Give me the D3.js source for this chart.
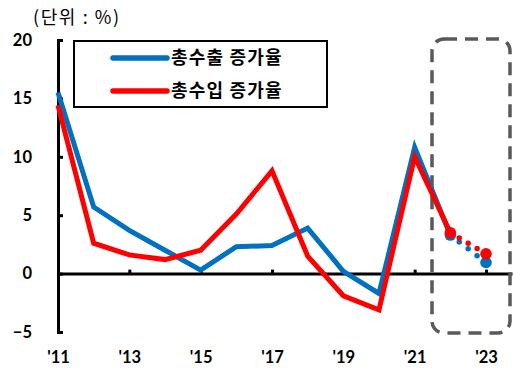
<!DOCTYPE html>
<html>
<head>
<meta charset="utf-8">
<script src="https://cdn.jsdelivr.net/npm/d3@7/dist/d3.min.js"></script>
<style>
  html, body { margin: 0; padding: 0; background: #fff; }
  svg { display: block; }
</style>
</head>
<body>
<svg id="chart" width="514" height="369"></svg>
<script>
// Annual growth rates (%), 2011–2023; 2022–2023 are outlook values
const years = [2011, 2012, 2013, 2014, 2015, 2016, 2017, 2018, 2019, 2020, 2021, 2022, 2023];
const exportGrowth = [15.5, 5.7, 3.7, 2.0, 0.3, 2.3, 2.4, 3.9, 0.2, -1.7, 10.8, 3.3, 0.95];
const importGrowth = [14.4, 2.6, 1.6, 1.2, 2.0, 5.1, 8.8, 1.5, -1.9, -3.1, 10.0, 3.5, 1.7];
const seriesNames = ["총수출 증가율", "총수입 증가율"];
const seriesColors = ["#0070C0", "#FF0000"];
const yTicks = [-5, 0, 5, 10, 15, 20];
const xTickYears = [2011, 2013, 2015, 2017, 2019, 2021, 2023];
const actualUntil = 2022;   // solid line up to here, dotted afterwards
const unitLabel = "(단위 : %)";

const svg = d3.select("#chart");
const numFont = "Lato, 'Open Sans', sans-serif";
const krFont = "'Noto Sans CJK KR', 'Noto Sans', sans-serif";

const x = d3.scaleLinear().domain([2011, 2023]).range([58, 486]);
const y = d3.scaleLinear().domain([-5, 20]).range([332, 40]);

// Unit caption
svg.append("text")
  .attr("x", 33).attr("y", 24)
  .attr("font-family", krFont).attr("font-size", 18)
  .attr("letter-spacing", 1.6)
  .attr("fill", "#000")
  .text(unitLabel);

// Y axis: bracket-style with inward ticks
const yAxis = svg.append("g")
  .attr("transform", `translate(${x(2011)},0)`)
  .call(d3.axisLeft(y).tickValues(yTicks).tickSizeInner(-5).tickSizeOuter(-5).tickPadding(26)
        .tickFormat(d3.format("d")));
yAxis.select(".domain").attr("stroke", "#000").attr("stroke-width", 3);
yAxis.selectAll(".tick line").attr("stroke", "#000").attr("stroke-width", 3);
yAxis.selectAll(".tick text")
  .attr("font-family", numFont).attr("font-weight", "bold").attr("font-size", 16.5)
  .attr("fill", "#000");

// X axis along the zero line, ticks pointing up, labels under the plot
const xAxisScale = x.copy().domain([2011, x.invert(512)]).range([58, 512]);
const xAxis = svg.append("g")
  .attr("transform", `translate(0,${y(0)})`)
  .call(d3.axisBottom(xAxisScale).tickValues(xTickYears).tickSizeInner(-4).tickSizeOuter(0)
        .tickFormat(d => "'" + String(d).slice(2)));
xAxis.select(".domain").attr("stroke", "#000").attr("stroke-width", 3);
xAxis.selectAll(".tick line").attr("stroke", "#000").attr("stroke-width", 3);
xAxis.selectAll(".tick text")
  .attr("y", 363 - y(0)).attr("dy", 0)
  .attr("font-family", numFont).attr("font-weight", "bold").attr("font-size", 16.5)
  .attr("fill", "#000");

// Dashed frame around the outlook period
const fx0 = 432, fx1 = 510, fy0 = 39, fy1 = 333;
svg.append("rect")
  .attr("x", fx0).attr("y", fy0)
  .attr("width", fx1 - fx0).attr("height", fy1 - fy0)
  .attr("rx", 12).attr("ry", 12)
  .attr("fill", "none").attr("stroke", "#595959")
  .attr("stroke-width", 3.5).attr("stroke-dasharray", "13 8");

// Series
const line = d3.line().x(d => x(d.year)).y(d => y(d.value));
const series = [exportGrowth, importGrowth].map((vals, i) => ({
  name: seriesNames[i],
  color: seriesColors[i],
  points: years.map((yr, j) => ({ year: yr, value: vals[j] }))
}));

series.forEach(s => {
  const g = svg.append("g");
  const solid = s.points.filter(p => p.year <= actualUntil);
  const outlook = s.points.filter(p => p.year >= actualUntil);

  g.append("path")
    .attr("d", line(solid))
    .attr("fill", "none").attr("stroke", s.color)
    .attr("stroke-width", 5).attr("stroke-linejoin", "miter");

  const dotted = g.append("path")
    .attr("d", line(outlook))
    .attr("fill", "none").attr("stroke", s.color)
    .attr("stroke-width", 5.5).attr("stroke-linecap", "round");
  const len = dotted.node().getTotalLength();
  dotted.attr("stroke-dasharray", `0 ${len / 4}`);

  g.selectAll("circle")
    .data(outlook)
    .join("circle")
    .attr("cx", d => x(d.year)).attr("cy", d => y(d.value))
    .attr("r", 5.8)
    .attr("fill", s.color);
});

// Legend
const legend = svg.append("g");
legend.append("rect")
  .attr("x", 74).attr("y", 41).attr("width", 253).attr("height", 66)
  .attr("fill", "#fff").attr("stroke", "#000").attr("stroke-width", 2);
series.forEach((s, i) => {
  const ly = 58 + i * 33;
  legend.append("line")
    .attr("x1", 113).attr("x2", 167).attr("y1", ly).attr("y2", ly)
    .attr("stroke", s.color).attr("stroke-width", 5.5).attr("stroke-linecap", "round");
  legend.append("text")
    .attr("x", 171).attr("y", ly).attr("dy", "0.36em")
    .attr("font-family", krFont).attr("font-weight", "bold").attr("font-size", 18)
    .attr("letter-spacing", 1.2)
    .attr("fill", "#000")
    .text(s.name);
});
</script>
</body>
</html>
